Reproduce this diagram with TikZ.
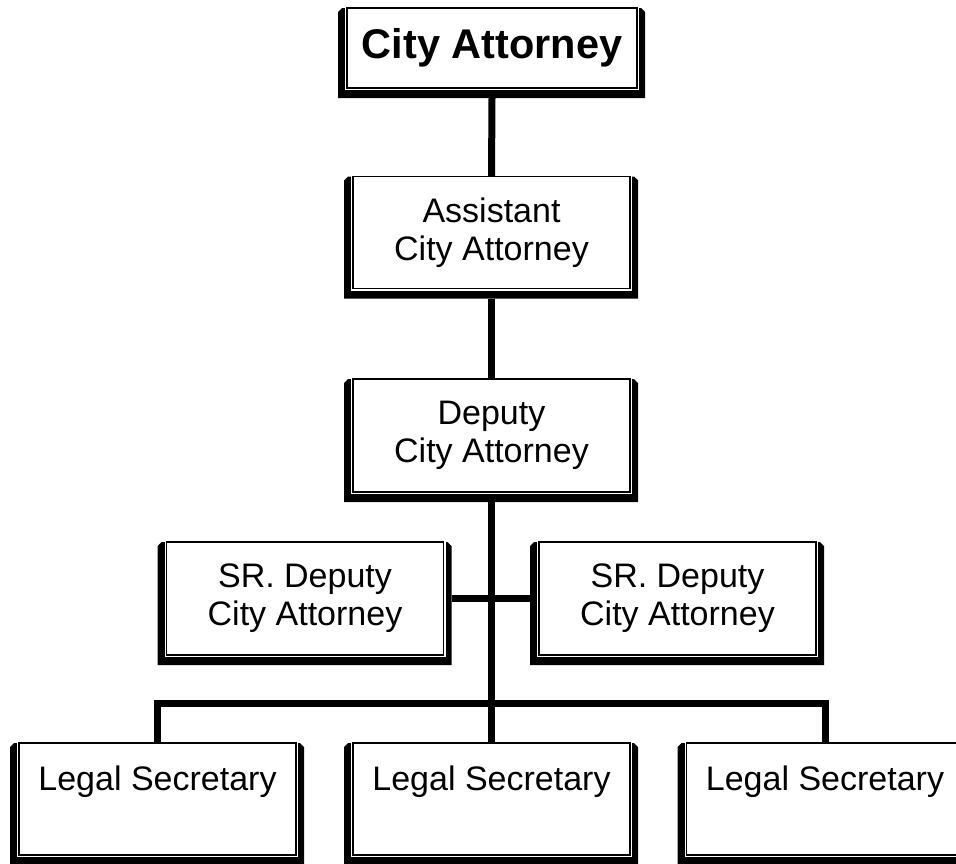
\documentclass[tikz,border=0pt]{standalone}
\usepackage{fontspec}
\setmainfont{Liberation Sans}
\usetikzlibrary{backgrounds}

\tikzset{
  post/.style={draw=black, line width=1.6pt, fill=white, inner sep=0pt, outer sep=0pt,
    preaction={draw=white, line width=4pt},
    minimum width=277pt, minimum height=112pt, align=center,
    font=\fontsize{34}{38}\selectfont},
  headpost/.style={post, minimum width=290pt, minimum height=80pt,
    font=\fontsize{41.5}{44}\selectfont\bfseries},
  link/.style={draw=black, line width=7pt, line join=miter},
  band/.style={fill=black}
}

\newcommand{\secretarytext}{\parbox[c][112pt][t]{275pt}{\centering\rule{0pt}{47pt}Legal Secretary}}

\begin{document}
\begin{tikzpicture}[x=1pt, y=-1pt]
  \useasboundingbox (0,0) rectangle (956,863);

  % posts
  \node[headpost] (ca)  at (492,48)    {City Attorney};
  \node[post]     (aca) at (491.5,232.5) {Assistant\\City Attorney};
  \node[post, minimum height=113pt] (dca) at (491.5,435.5) {Deputy\\City Attorney};
  \node[post, minimum height=113pt] (srl) at (305,598.5)   {SR. Deputy\\City Attorney};
  \node[post, minimum height=113pt] (srr) at (677.5,598.5) {SR. Deputy\\City Attorney};
  \node[post] (l1) at (157.5,799) {\secretarytext};
  \node[post] (l2) at (491.5,799) {\secretarytext};
  \node[post] (l3) at (825,799)   {\secretarytext};

  % heavy frames behind each post
  \begin{scope}[on background layer]
    \fill[white] (0,0) rectangle (956,863);
    \foreach \n in {ca,aca,dca,srl,srr,l1,l2,l3} {
      \fill[band] ([xshift=-5pt]\n.north west) -- ([xshift=4pt]\n.north east)
        -- ([xshift=8pt,yshift=-4pt]\n.north east)
        -- ([xshift=8pt,yshift=-10pt]\n.south east)
        -- ([xshift=-9pt,yshift=-10pt]\n.south west)
        -- ([xshift=-9pt,yshift=-4pt]\n.north west) -- cycle;
    }
  \end{scope}

  % reporting lines
  \coordinate (bar) at (492,703);
  \draw[link] ([yshift=-10pt]ca.south) -- (aca.north);
  \draw[link] ([yshift=-10pt]aca.south) -- (dca.north);
  \draw[link] ([yshift=-10pt]dca.south) -- (l2.north);
  \draw[link] ([xshift=8pt]srl.east) -- ([xshift=-9pt]srr.west);
  \draw[link] (l1.north) -- (l1.north |- bar) -- (l3.north |- bar) -- (l3.north);
\end{tikzpicture}
\end{document}
